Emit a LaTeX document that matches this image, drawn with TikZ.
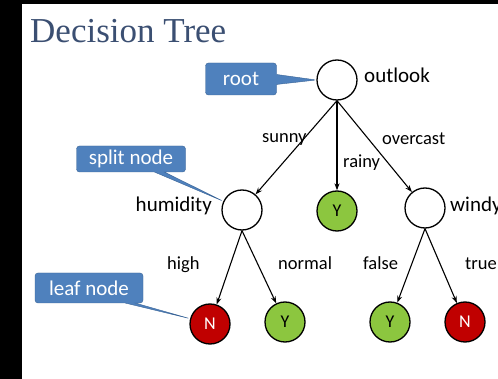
\documentclass[tikz,border=0pt]{standalone}
\usepackage{fontspec}
\setmainfont{Carlito}
\newfontfamily\titlefont{Liberation Serif}
\usetikzlibrary{arrows.meta,shapes.callouts}
\definecolor{titleblue}{HTML}{3B4F72}
\definecolor{callfill}{HTML}{4F81BD}
\definecolor{calldraw}{HTML}{3A6496}
\definecolor{yesgreen}{HTML}{8CC63F}
\definecolor{nored}{HTML}{C00000}

\begin{document}
\begin{tikzpicture}[x=1pt,y=-1pt,
	decnode/.style={circle, minimum size=40pt, inner sep=0pt, draw=black, line width=1.3pt},
	yesleaf/.style={decnode, fill=yesgreen, font=\fontsize{18}{20}\selectfont},
	noleaf/.style={decnode, fill=nored, text=white, font=\fontsize{18}{20}\selectfont},
	lbl/.style={inner sep=0pt, font=\fontsize{21}{25}\selectfont},
	edgelbl/.style={inner sep=0pt, font=\fontsize{18.5}{22}\selectfont},
	branch/.style={line width=1.1pt, -{Stealth[length=7pt,width=5pt]}},
	tip/.style={rectangle callout, fill=callfill, draw=calldraw, rounded corners=3pt, text=white, inner sep=0pt, font=\fontsize{21}{25}\selectfont, callout pointer width=10pt}]
		\useasboundingbox (0,0) rectangle (498,379);
		\fill[black] (0,0) rectangle (498,379);
		\fill[white] (22,4) rectangle (498,379);
		\node (title) [anchor=base west, inner sep=0pt, text=titleblue, font=\titlefont\fontsize{35}{40}\selectfont] at (30,43) {Decision Tree};

		% tree
		\node (outlook) [decnode] at (337,80) {};
		\node (humidity) [decnode] at (242,210) {};
		\node (rainyY) [yesleaf] at (337,211) {Y};
		\node (windy) [decnode] at (425,208) {};
		\node (highN) [noleaf] at (210,324) {N};
		\node (normalY) [yesleaf] at (285,322) {Y};
		\node (falseY) [yesleaf] at (390,322) {Y};
		\node (trueN) [noleaf] at (465,322) {N};

		\draw[branch] (outlook.south) -- (humidity);
		\draw[branch] (outlook.south) -- (rainyY);
		\draw[branch] (outlook.south) -- (windy);
		\draw[branch] (humidity.south) -- (highN);
		\draw[branch] (humidity.south) -- (normalY);
		\draw[branch] (windy.south) -- (falseY);
		\draw[branch] (windy.south) -- (trueN);

		% labels
		\node (outlooklbl) [lbl, anchor=base west] at (364,83) {outlook};
		\node (humiditylbl) [lbl, anchor=base east] at (212,212) {humidity};
		\node (windylbl) [lbl, anchor=base west] at (450,212) {windy};
		\node (sunny) [edgelbl, anchor=base west] at (262,143) {sunny};
		\node (rainy) [edgelbl, anchor=base west] at (343,168) {rainy};
		\node (overcast) [edgelbl, anchor=base west] at (382,145) {overcast};
		\node (high) [edgelbl, anchor=base west] at (167,270) {high};
		\node (normal) [edgelbl, anchor=base west] at (278,270) {normal};
		\node (false) [edgelbl, anchor=base west] at (363,270) {false};
		\node (true) [edgelbl, anchor=base west] at (465,270) {true};

		% callouts
		\node (rootcall) [tip, minimum width=71pt, minimum height=32pt, callout absolute pointer={(outlook.west)}] at (241,79) {root};
		\node (splitcall) [tip, minimum width=109pt, minimum height=26pt, callout absolute pointer={(humidity.155)}] at (131,159) {split node};
		\node (leafcall) [tip, minimum width=108pt, minimum height=30pt, callout absolute pointer={(highN.165)}] at (89,288) {leaf node};
\end{tikzpicture}
\end{document}
